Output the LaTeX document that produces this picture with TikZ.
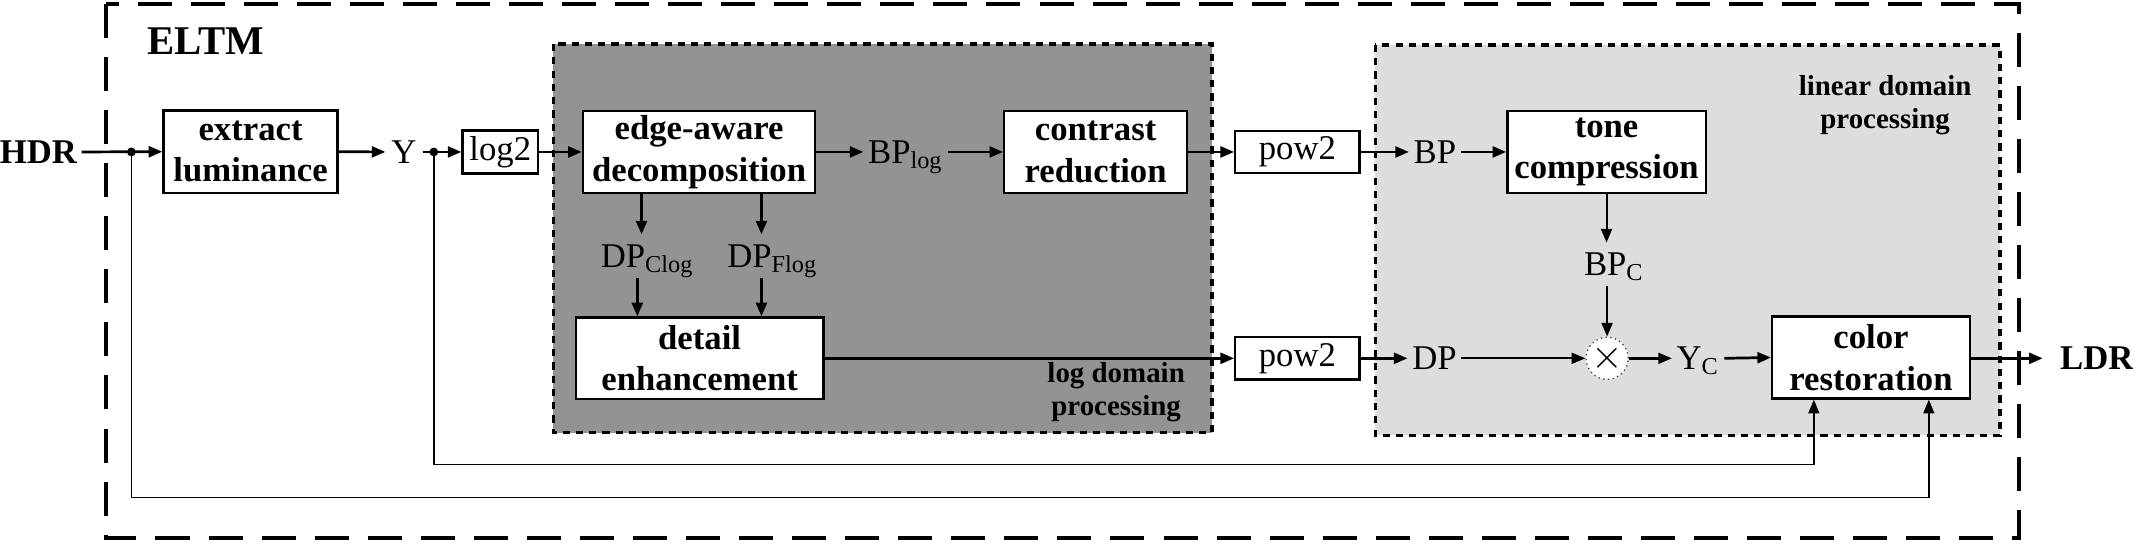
\documentclass[tikz,border=0pt]{standalone}
\usepackage{fontspec}
\setmainfont{Liberation Serif}
\usetikzlibrary{arrows.meta,calc}
\definecolor{logfill}{RGB}{147,147,147}
\definecolor{linfill}{RGB}{221,221,221}
\begin{document}
\begin{tikzpicture}[x=0.4pt,y=-0.4pt,
  blockbox/.style={draw, line width=0.7pt, fill=white, align=center, inner sep=0pt,
    font=\bfseries\fontsize{10.2}{12.2}\selectfont},
  smallbox/.style={draw, line width=0.7pt, fill=white, inner sep=0pt,
    font=\fontsize{10.2}{12}\selectfont, minimum width=36.5pt, minimum height=12.4pt},
  lbl/.style={inner xsep=1.2pt, inner ysep=1pt, font=\fontsize{10.2}{12}\selectfont,
    text height=6.8pt, text depth=0pt},
  vlbl/.style={lbl, inner ysep=2.8pt},
  grouptitle/.style={align=center, inner sep=0pt,
    font=\bfseries\fontsize{8.5}{9.7}\selectfont},
  arr/.style={-{Triangle[length=4pt,width=3.2pt]}, line width=0.8pt},
  tarr/.style={-{Triangle[length=4pt,width=3.2pt]}, line width=0.45pt},
  narr/.style={-{Triangle[length=4pt,width=3.2pt]}, line width=0.6pt},
  marr/.style={-{Triangle[length=4pt,width=3.2pt]}, line width=0.7pt},
  dotbox/.style={line width=1pt, dash pattern=on 2.1pt off 1.8pt},
  framebox/.style={line width=1.1pt, dash pattern=on 10pt off 5.6pt}
]
\useasboundingbox (0,0) rectangle (1568,401);

% outer frame
\draw[framebox] (77.8,3) rectangle (1484,395.5);
\node[anchor=base west, inner sep=0pt, font=\bfseries\fontsize{12}{14}\selectfont] (eltm) at (108,40.3) {ELTM};

% domain groups
\fill[logfill] (406.7,32.4) rectangle (891,318);
\draw[dotbox] (406.7,32.4) rectangle (891,318);
\fill[linfill] (1011,33) rectangle (1470.2,320);
\draw[dotbox] (1011,33) rectangle (1470.2,320);
\node[grouptitle] (logtitle) at (820.5,288.3) {log domain\\processing};
\node[grouptitle] (lintitle) at (1385.8,77.5) {linear domain\\processing};

% blocks
\node[blockbox, minimum width=51.2pt, minimum height=24.3pt] (extract) at (184.2,111.5) {extract\\luminance};
\node[smallbox, minimum width=22.2pt, minimum height=12.6pt] (log2) at (367.8,111.7) {log2};
\node[blockbox, minimum width=68.3pt, minimum height=24.2pt] (edge) at (513.9,111.7) {edge-aware\\decomposition};
\node[blockbox, minimum width=53.7pt, minimum height=24.2pt] (contrast) at (805.4,111.7) {contrast\\reduction};
\node[smallbox] (pow2a) at (953.7,111.7) {pow2};
\node[blockbox, minimum width=58.3pt, minimum height=24.2pt] (tone) at (1181,111.7) {tone\\compression};
\node[blockbox, minimum width=72.8pt, minimum height=24pt] (detail) at (514.3,263.4) {detail\\enhancement};
\node[smallbox] (pow2b) at (953.7,263.4) {pow2};
\node[blockbox, minimum width=58.1pt, minimum height=24.1pt] (color) at (1375.4,262.8) {color\\restoration};
\node[circle, draw=black!70, densely dotted, line width=0.4pt, fill=white, minimum size=12.4pt, inner sep=0pt,
  font=\fontsize{12.5}{12.5}\selectfont] (mul) at (1181.4,263.4) {$\times$};

% labels
\node[lbl, anchor=east, font=\bfseries\fontsize{10.2}{12}\selectfont] (hdr) at (60,111.7) {HDR};
\node[lbl, anchor=west, inner xsep=4.96pt, font=\bfseries\fontsize{10.2}{12}\selectfont] (ldr) at (1501.6,263.4) {LDR};
\node[lbl, inner xsep=1.6pt] (y) at (297,111.7) {Y};
\node[lbl] (bplog) at (665.8,111.7) {BP\textsubscript{log}};
\node[lbl] (bp) at (1054.8,111.7) {BP};
\node[lbl] (dp) at (1054.5,263.4) {DP};
\node[lbl] (yc) at (1248.3,263.4) {Y\textsubscript{C}};
\node[vlbl] (dpc) at (476,188.3) {DP\textsubscript{Clog}};
\node[vlbl] (dpf) at (568,188.3) {DP\textsubscript{Flog}};
\node[vlbl] (bpc) at (1186.6,194.3) {BP\textsubscript{C}};

\coordinate (hdot) at (96.6,111.7);
\coordinate (ydot) at (318.9,111.7);

% main path
\draw[arr] (hdr.east) -- (extract.west);
\draw[arr] (extract.east) -- (y.west);
\draw[arr] (y.east) -- (log2.west);
\draw[arr] (log2.east) -- (edge.west);
\draw[arr] (edge.east) -- (bplog.west);
\draw[arr] (bplog.east) -- (contrast.west);
\draw[arr] (contrast.east) -- (pow2a.west);
\draw[arr] (pow2a.east) -- (bp.west);
\draw[arr] (bp.east) -- (tone.west);

% detail branches
\draw[arr] ([xshift=-1.76pt]dpc.north |- edge.south) -- ([xshift=-1.76pt]dpc.north);
\draw[arr] ([xshift=-3pt]dpc.south) -- ([xshift=-3pt]dpc.south |- detail.north);
\draw[arr] ([xshift=-3.3pt]dpf.north |- edge.south) -- ([xshift=-3.3pt]dpf.north);
\draw[arr] ([xshift=-3.3pt]dpf.south) -- ([xshift=-3.3pt]dpf.south |- detail.north);
\draw[arr] (detail.east) -- (pow2b.west);
\draw[arr] (pow2b.east) -- (dp.west);

% linear domain
\draw[narr] (tone.south) -- (tone.south |- bpc.north);
\draw[narr] (mul |- bpc.south) -- (mul.north);
\draw[narr] (dp.east) -- (mul.west);
\draw[marr] (mul.east) -- (yc.west);
\draw[arr] (yc.east) -- (color.west);
\draw[arr] (color.east |- ldr.west) -- (ldr.west);

% feedback lines
\draw[tarr] (ydot) -- (318.9,341.3) -| ([xshift=-16.8pt]color.south);
\draw[tarr] (hdot) -- (96.6,365.6) -| ([xshift=17pt]color.south);
\fill (hdot) circle (1.3pt);
\fill (ydot) circle (1.3pt);
\end{tikzpicture}
\end{document}
